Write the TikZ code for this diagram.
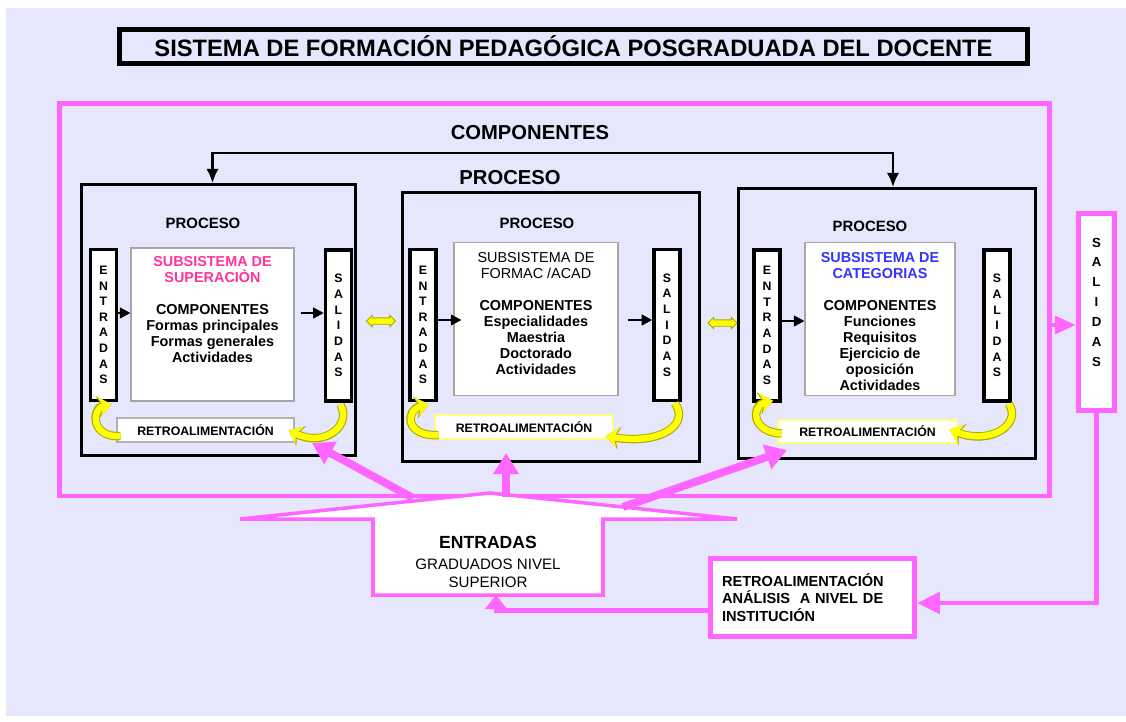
\documentclass[tikz,border=0pt]{standalone}
\usepackage{fontspec}
\setmainfont{Liberation Sans}
\usepackage{tikz}
\usetikzlibrary{shapes,arrows.meta,positioning,calc}

\definecolor{lav}{RGB}{230,230,252}
\definecolor{rosa}{RGB}{255,102,255}
\definecolor{subrosa}{RGB}{255,51,153}
\definecolor{subazul}{RGB}{51,51,255}
\definecolor{amar}{RGB}{255,255,0}
\definecolor{oliva}{RGB}{170,170,0}

\tikzset{
  proc/.style={draw, line width=1.7pt, minimum width=5.94cm, minimum height=5.4cm, inner sep=0},
  strip/.style={draw, fill=white, line width=2pt, minimum width=0.52cm, minimum height=3.02cm, inner sep=0, align=center, font=\fontsize{7}{8.9}\selectfont\bfseries},
  inbox/.style={draw=gray!70, fill=white, line width=0.6pt, minimum height=3.06cm, inner sep=0},
  intext/.style={align=center, inner sep=0, font=\fontsize{8.2}{9.1}\selectfont\bfseries},
  retro/.style={draw=gray!60, fill=white, line width=0.6pt, minimum width=3.54cm, minimum height=0.48cm, inner sep=0, font=\fontsize{7}{8}\selectfont\bfseries},
  ptitle/.style={font=\fontsize{8.5}{10}\selectfont\bfseries},
  blk/.style={line width=1.4pt, -{Triangle[length=6pt,width=6pt]}},
  yarr/.style={line width=3.6pt, draw=amar, -{Stealth[length=7pt,width=11pt]}, preaction={draw=oliva, line width=4.8pt, -{Stealth[length=8pt,width=12.5pt]}}},
  dbl/.style={double arrow, fill=amar, draw=oliva, line width=0.5pt, minimum height=0.58cm, minimum width=0.22cm, double arrow head extend=0.05cm, inner xsep=0, inner ysep=0.055cm},
  pk/.style={draw=rosa, line width=2.8pt},
  pkarr/.style={draw=rosa, fill=rosa, line width=4.5pt, -{Triangle[length=12pt,width=14pt]}}
}

\begin{document}
\begin{tikzpicture}[x=0.02cm, y=-0.02cm]
\useasboundingbox (0,0) rectangle (1126,721);
\fill[lav] (6,8) rectangle (1126,716);

\node[draw, line width=2.8pt, minimum width=18.16cm, minimum height=0.68cm, inner sep=0, font=\fontsize{13.5}{16}\selectfont\bfseries] (tit) at (573.5,46.5) {SISTEMA DE FORMACIÓN PEDAGÓGICA POSGRADUADA DEL DOCENTE};

\node[draw=rosa, line width=2.8pt, minimum width=19.81cm, minimum height=7.85cm, inner sep=0] (comp) at (554.75,299.75) {};
\node[font=\fontsize{11.5}{13}\selectfont\bfseries] (ctit) at (530,133) {COMPONENTES};
\node[font=\fontsize{11.5}{13}\selectfont\bfseries] (ptit) at (510,178) {PROCESO};

\node[proc, minimum width=5.48cm, minimum height=5.42cm] (box1) at (218.5,320) {};
\node[proc] (box2) at (551,327) {};
\node[proc] (box3) at (887,323.5) {};
\draw[line width=1.4pt, {Latex[length=8pt,width=7pt]}-{Latex[length=8pt,width=7pt]}] ($(box1.north)+(-6,0)$) -- ++(0,-30) -| ($(box3.north)+(6,0)$);

\node[ptitle] (p1) at (203,223) {PROCESO};
\node[strip] (e1) at (103.5,325) {E\\N\\T\\R\\A\\D\\A\\S};
\node[strip] (s1) at (338.5,325.5) {S\\A\\L\\I\\D\\A\\S};
\node[inbox, minimum width=3.26cm] (in1) at (212.5,324.5) {};
\node[intext, below=0.17cm of in1.north] (tx1) {\textcolor{subrosa}{SUBSISTEMA DE}\\\textcolor{subrosa}{SUPERACIÒN}\\[9.1pt]COMPONENTES\\Formas principales\\Formas generales\\Actividades};
\node[retro] (r1) at (205.5,430) {RETROALIMENTACIÓN};
\draw[blk] ($(e1.east)+(0,-12)$) -- ($(in1.west)+(0,-11.5)$);
\draw[blk] ($(in1.east)+(6,-11.5)$) -- ($(s1.west)+(0,-12.5)$);

\node[ptitle] (p2) at (537,223) {PROCESO};
\node[strip] (e2) at (423,325) {E\\N\\T\\R\\A\\D\\A\\S};
\node[strip] (s2) at (667,325) {S\\A\\L\\I\\D\\A\\S};
\node[inbox, minimum width=3.28cm] (in2) at (536,319) {};
\node[intext, below=0.2cm of in2.north] (tx2) {\mdseries SUBSISTEMA DE\\\mdseries FORMAC /ACAD\\[9.1pt]COMPONENTES\\Especialidades\\Maestria\\Doctorado\\Actividades};
\node[retro, draw=amar!50, minimum width=3.56cm] (r2) at (524,427) {RETROALIMENTACIÓN};
\draw[blk] ($(e2.east)+(0,-5)$) -- ($(in2.west)+(8,1)$);
\draw[blk] ($(in2.east)+(9,1)$) -- ($(s2.west)+(0,-5)$);

\node[ptitle] (p3) at (870,226) {PROCESO};
\node[strip] (e3) at (767,325.5) {E\\N\\T\\R\\A\\D\\A\\S};
\node[strip] (s3) at (997,325.5) {S\\A\\L\\I\\D\\A\\S};
\node[inbox, minimum width=3cm] (in3) at (880,319) {};
\node[intext, below=0.2cm of in3.north] (tx3) {\textcolor{subazul}{SUBSISTEMA DE}\\\textcolor{subazul}{CATEGORIAS}\\[9.1pt]COMPONENTES\\Funciones\\Requisitos\\Ejercicio de\\oposición\\Actividades};
\node[retro, draw=amar!50, minimum width=3.58cm, minimum height=0.46cm] (r3) at (867.5,431.5) {RETROALIMENTACIÓN};
\draw[blk] ($(e3.east)+(0,-4.5)$) -- ($(in3.west)+(0,2)$);

\draw[yarr] ($(s1.south)+(2,2)$) .. controls (352,425) and (325,448) .. ($(r1.east)+(-6,0)$);
\draw[yarr] ($(r1.west)+(4,6)$) .. controls (90,438) and (92,408) .. ($(e1.south)+(8,2)$);
\draw[yarr] ($(s2.south)+(8,1)$) .. controls (690,425) and (660,445) .. ($(r2.east)+(-8,9)$);
\draw[yarr] ($(r2.west)+(4,8)$) .. controls (405,437) and (405,410) .. ($(e2.south)+(6,2)$);
\draw[yarr] ($(s3.south)+(12,1)$) .. controls (1022,425) and (990,445) .. ($(r3.east)+(-8,-2)$);
\draw[yarr] ($(r3.west)+(4,2)$) .. controls (750,432) and (752,405) .. ($(e3.south)+(6,-2)$);

\node[dbl] (d12) at (381,321) {};
\node[dbl] (d23) at (722.5,323) {};

\node[draw=rosa, line width=3pt, fill=white, minimum width=0.72cm, minimum height=3.94cm, inner sep=0, align=center, font=\fontsize{7.5}{11.3}\selectfont\bfseries] (sal) at (1096.5,312) {S\\A\\L\\I\\D\\A\\S\\\mbox{}};
\coordinate (sa) at ($(sal.west)+(0,13)$);
\draw[pk, -{Triangle[length=12pt,width=10pt]}] (comp.east |- sa) -- (sa);

\node[draw=rosa, line width=3pt, fill=white, minimum width=4.08cm, minimum height=1.56cm, inner xsep=0.23cm, text width=3.62cm, align=left, font=\fontsize{8.3}{10}\selectfont\bfseries] (rinst) at (812.5,597.5) {RETROALIMENTACIÓN\\ANÁLISIS~~A NIVEL DE\\INSTITUCIÓN};
\coordinate (rin) at ($(rinst.east)+(0,5.5)$);
\draw[pk, -{Triangle[length=13pt,width=12pt]}] (sal.south) |- (rin);

\coordinate (hl) at (240,519);
\coordinate (hp) at (490,493);
\coordinate (hr) at (737,519);
\draw[rosa, line width=2pt, fill=white] (hl) -- (hp) -- (hr) -- (603,519) -- (603,595) -- (373,595) -- (373,519) -- cycle;
\node[align=center, inner sep=0, font=\fontsize{8.6}{10}\selectfont] (ent) at (488,562) {{\fontsize{10}{12}\selectfont\bfseries ENTRADAS}\\[2pt]GRADUADOS NIVEL\\SUPERIOR};
\coordinate (hbot) at (496,595);
\coordinate (rout) at ($(rinst.west)+(0,13)$);
\draw[pk, -{Triangle[length=8pt,width=12pt]}] (rout) -| (hbot);

\coordinate (a1) at (413,498);
\coordinate (b1) at (312,443);
\coordinate (a2) at (506,497);
\coordinate (b2) at (506,453);
\coordinate (a3) at (623,507);
\coordinate (b3) at (787,450);
\draw[pkarr] (a1) -- (b1);
\draw[pkarr] (a2) -- (b2);
\draw[pkarr] (a3) -- (b3);
\end{tikzpicture}
\end{document}
